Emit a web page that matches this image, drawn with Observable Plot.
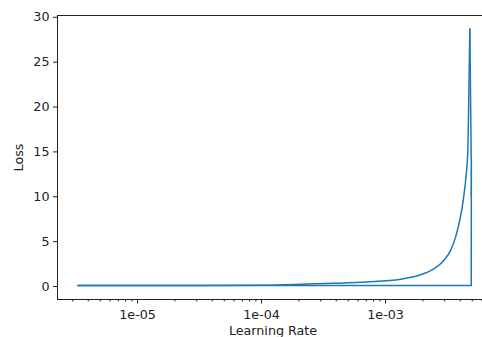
<!DOCTYPE html>
<html>
<head>
<meta charset="utf-8">
<script src="https://cdn.jsdelivr.net/npm/d3@7"></script>
<script src="https://cdn.jsdelivr.net/npm/@observablehq/plot@0.6"></script>
<style>
  html, body { margin: 0; padding: 0; background: #fff; }
</style>
</head>
<body>
<div id="chart"></div>
<script>
// Rising part of the learning-rate finder curve
const riseLearningRate = [
  3.3e-6, 1e-5, 3e-5, 1e-4, 1.5e-4, 2.07e-4, 3.81e-4, 7.12e-4, 1.32e-3,
  1.91e-3, 2.45e-3, 2.95e-3, 3.34e-3, 3.67e-3, 3.97e-3, 4.23e-3,
  4.45e-3, 4.61e-3, 4.70e-3, 4.78e-3
];
const riseLoss = [
  0.1, 0.1, 0.1, 0.13, 0.18, 0.25, 0.35, 0.5, 0.8,
  1.3, 1.97, 2.9, 4.0, 5.5, 7.4, 9.6,
  12.2, 15.2, 21.9, 28.7
];
// Collapse after the peak, then the return line
const tailLearningRate = [
  4.78e-3, 4.91e-3, 4.90e-3, 4.92e-3, 4.90e-3, 4.92e-3, 4.90e-3, 4.92e-3,
  4.91e-3, 4.91e-3, 4.91e-3, 3.3e-6
];
const tailLoss = [
  28.7, 14.0, 9.9, 14.0, 9.9, 14.0, 9.9, 14.0,
  4.0, 3.3, 0.1, 0.1
];
const yTicks = [0, 5, 10, 15, 20, 25, 30];
const xTicks = [1e-5, 1e-4, 1e-3];
const xTickLabels = ["1e-05", "1e-04", "1e-03"];
const xMinorTicks = [
  3e-6, 4e-6, 5e-6, 6e-6, 7e-6, 8e-6, 9e-6,
  2e-5, 3e-5, 4e-5, 5e-5, 6e-5, 7e-5, 8e-5, 9e-5,
  2e-4, 3e-4, 4e-4, 5e-4, 6e-4, 7e-4, 8e-4, 9e-4,
  2e-3, 3e-3, 4e-3, 5e-3, 6e-3
];
const xDomain = [2.26e-6, 6.05e-3];
const yDomain = [-1.45, 30.2];
const xLabel = "Learning Rate";
const yLabel = "Loss";

const rise = riseLearningRate.map((lr, i) => ({lr, loss: riseLoss[i]}));
const tail = tailLearningRate.map((lr, i) => ({lr, loss: tailLoss[i]}));
const fmt = new Map(xTicks.map((t, i) => [t, xTickLabels[i]]));

const chart = Plot.plot({
  width: 482,
  height: 337,
  marginLeft: 57,
  marginRight: 0,
  marginTop: 15,
  marginBottom: 38,
  style: {fontFamily: "DejaVu Sans", fontSize: "12.7px", background: "#fff", color: "#222"},
  x: {type: "log", domain: xDomain},
  y: {domain: yDomain},
  marks: [
    Plot.line(tail, {x: "lr", y: "loss", stroke: "#1f77b4", strokeWidth: 1.5}),
    Plot.line(rise, {x: "lr", y: "loss", stroke: "#1f77b4", strokeWidth: 1.5, curve: "monotone-x"}),
    Plot.ruleY([yDomain[0], yDomain[1]], {stroke: "#222", strokeWidth: 1}),
    Plot.ruleX([xDomain[0]], {stroke: "#222", strokeWidth: 1}),
    Plot.axisY({ticks: yTicks, tickSize: 4, tickPadding: 4, label: null, stroke: "#222"}),
    Plot.axisX({ticks: xTicks, tickSize: 4.5, tickPadding: 6, tickFormat: d => fmt.get(d), label: null}),
    Plot.axisX({ticks: xMinorTicks, tickSize: 2.5, text: null, label: null}),
    Plot.text([yLabel], {text: d => d, frameAnchor: "left", dx: -39, rotate: -90, textAnchor: "middle", fill: "#222"}),
    Plot.text([xLabel], {text: d => d, frameAnchor: "bottom", dy: 35, dx: 3, textAnchor: "middle", fill: "#222"})
  ]
});
document.getElementById("chart").appendChild(chart);
</script>
</body>
</html>
